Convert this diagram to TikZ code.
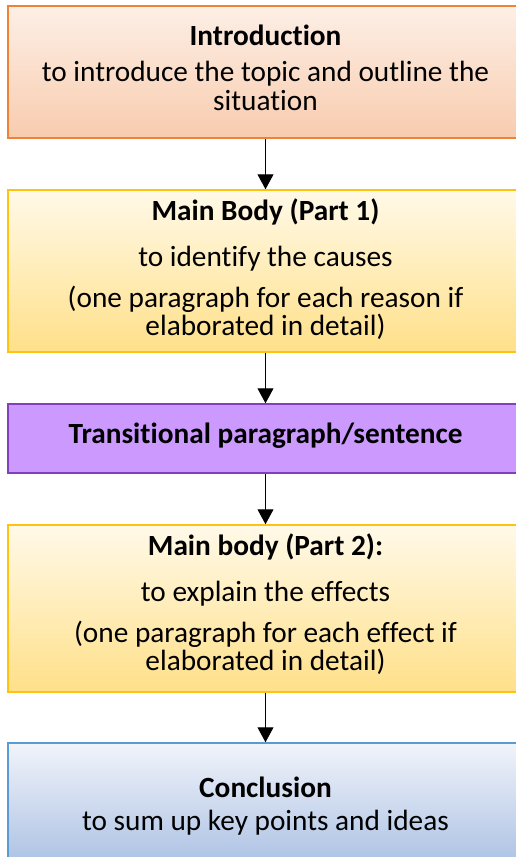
\documentclass[tikz,border=0pt]{standalone}
\usepackage{fontspec}
\setmainfont[Ligatures=NoCommon]{Carlito}
\usetikzlibrary{arrows.meta}
\definecolor{orangeB}{HTML}{F08236}
\definecolor{orangeT}{HTML}{FDEFE6}
\definecolor{orangeM}{HTML}{F6C4A2}
\definecolor{orangeL}{HTML}{F8CCAE}
\definecolor{goldB}{HTML}{FFC20E}
\definecolor{goldT}{HTML}{FFF9E8}
\definecolor{goldL}{HTML}{FFE089}
\definecolor{purpB}{HTML}{8040C0}
\definecolor{purpF}{HTML}{CC99FF}
\definecolor{blueB}{HTML}{5B9BD5}
\definecolor{blueT}{HTML}{F1F4FA}
\definecolor{blueL}{HTML}{A6BDE2}
\tikzset{
  stagebox/.style={rectangle, line width=1.5pt, minimum width=515pt, inner sep=0pt},
  txt/.style={anchor=base, inner sep=0pt, font=\fontsize{29.3}{35}\selectfont},
  btxt/.style={txt, font=\fontsize{29.3}{35}\selectfont\bfseries},
  arr/.style={line width=1pt, -{Triangle[width=16pt,length=15pt]}}
}
\begin{document}
\begin{tikzpicture}[x=1pt,y=-1pt]
\clip (0,0) rectangle (516,857);
\fill[white] (0,0) rectangle (516,857);
% boxes
\node[stagebox, draw=orangeB, top color=orangeT, middle color=orangeM, bottom color=orangeL, minimum height=132pt] (intro) at (265.5,72) {};
\node[stagebox, draw=goldB, top color=goldT, bottom color=goldL, minimum height=162pt] (body1) at (265.5,271) {};
\node[stagebox, draw=purpB, fill=purpF, minimum height=69pt] (trans) at (265.5,438.5) {};
\node[stagebox, draw=goldB, top color=goldT, bottom color=goldL, minimum height=167pt] (body2) at (265.5,608.5) {};
\node[stagebox, draw=blueB, top color=blueT, bottom color=blueL, minimum height=132pt] (concl) at (265.5,809) {};
% texts
\node[btxt] (t1a) at (265.5,45) {Introduction};
\node[txt] (t1b) at (265.5,81) {to introduce the topic and outline the};
\node[txt] (t1c) at (265.5,110) {situation};
\node[btxt] (t2a) at (265.5,220) {Main Body (Part 1)};
\node[txt] (t2b) at (265.5,266) {to identify the causes};
\node[txt] (t2c) at (265.5,307) {(one paragraph for each reason if};
\node[txt] (t2d) at (265.5,335) {elaborated in detail)};
\node[btxt] (t3a) at (265.5,443) {Transitional paragraph/sentence};
\node[btxt] (t4a) at (265.5,555) {Main body (Part 2):};
\node[txt] (t4b) at (265.5,601) {to explain the effects};
\node[txt] (t4c) at (265.5,642) {(one paragraph for each effect if};
\node[txt] (t4d) at (265.5,670) {elaborated in detail)};
\node[btxt] (t5a) at (265.5,797) {Conclusion};
\node[txt] (t5b) at (265.5,830) {to sum up key points and ideas};
% arrows
\draw[arr] (intro.south) -- (body1.north);
\draw[arr] (body1.south) -- (trans.north);
\draw[arr] (trans.south) -- (body2.north);
\draw[arr] (body2.south) -- (concl.north);
\end{tikzpicture}
\end{document}
